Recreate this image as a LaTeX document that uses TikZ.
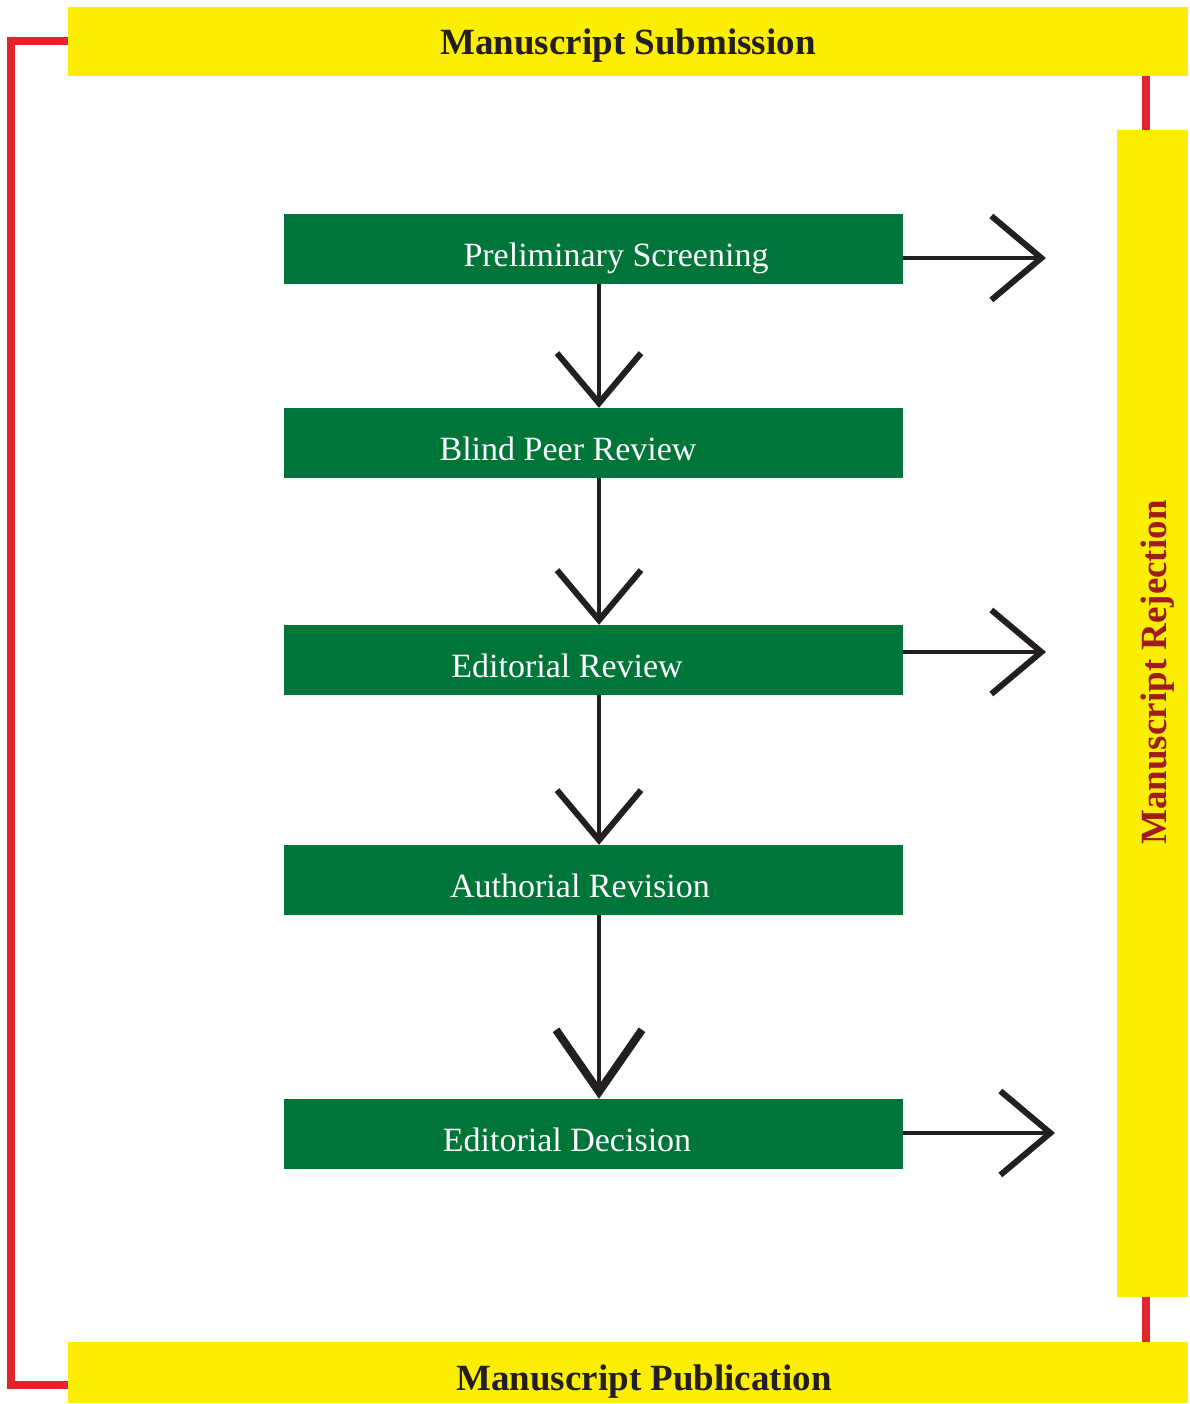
\documentclass[tikz,border=0pt]{standalone}
\usepackage{fontspec}
\setmainfont{Liberation Serif}
\usetikzlibrary{arrows.meta}
\definecolor{ylw}{HTML}{FCEE00}
\definecolor{grn}{HTML}{00753A}
\definecolor{rd}{HTML}{E1252B}
\definecolor{ink}{HTML}{231F20}
\definecolor{dkrd}{HTML}{9E1B20}
\tikzset{gb/.style = {rectangle, fill=grn, text=white, minimum width=619pt, minimum height=70pt,
                      inner sep=0pt, text height=35pt, text depth=0pt, font=\fontsize{34}{40}\selectfont},
         yb/.style = {rectangle, fill=ylw, inner sep=0pt, text depth=0pt, font=\fontsize{37}{42}\selectfont\bfseries},
         rl/.style = {draw=rd, line width=8pt},
         ar/.style = {draw=ink, line width=4pt,
                      -{Straight Barb[length=50pt, width=84pt, line width=6pt, sharp]}}}

\begin{document}
\begin{tikzpicture}[x=1pt, y=-1pt]
    \useasboundingbox (0,0) rectangle (1190,1404);
    \node[yb, minimum width=1120pt, minimum height=69pt, text height=27pt, text=ink] (sub) at (628,41.5) {Manuscript Submission};
    \node[yb, minimum width=1120pt, minimum height=61pt, text height=35pt, text=ink] (pub) at (628,1372.5) {\hspace*{32pt}Manuscript Publication};
    \node[yb, minimum width=1167pt, minimum height=71pt, text height=27pt, rotate=90, text=dkrd] (rej) at (1152.5,713.5) {\hspace*{82pt}Manuscript Rejection};
    \node[gb] (pre) at (593.5,249) {\hspace*{45pt}Preliminary Screening};
    \node[gb] (bli) at (593.5,443) {Blind Peer Review\hspace*{51pt}};
    \node[gb] (edr) at (593.5,660) {Editorial Review\hspace*{53pt}};
    \node[gb] (aut) at (593.5,880) {Authorial Revision\hspace*{27pt}};
    \node[gb] (edd) at (593.5,1134) {Editorial Decision\hspace*{53pt}};
    \coordinate (lx) at (11,0); \coordinate (rx) at (1146,0);
    \coordinate (e1) at (1046,258); \coordinate (e2) at (1046,652); \coordinate (e3) at (1055,1133);
    \draw[rl] (sub.west) -- (sub.west -| lx) -- (lx |- 0,1385) -- (pub.west |- 0,1385);
    \draw[rl] (sub.south -| rx) -- (rej.east -| rx);
    \draw[rl] (rej.west -| rx) -- (pub.north -| rx);
    \draw[ar] ([xshift=5.5pt]pre.south) -- ([xshift=5.5pt]bli.north);
    \draw[ar] ([xshift=5.5pt]bli.south) -- ([xshift=5.5pt]edr.north);
    \draw[ar] ([xshift=5.5pt]edr.south) -- ([xshift=5.5pt]aut.north);
    \draw[ar, -{Straight Barb[length=62pt, width=86pt, line width=8pt, sharp]}] ([xshift=5.5pt]aut.south) -- ([xshift=5.5pt]edd.north);
    \draw[ar] (pre.east |- e1) -- (e1);
    \draw[ar] (edr.east |- e2) -- (e2);
    \draw[ar] (edd.east |- e3) -- (e3);
\end{tikzpicture}
\end{document}
